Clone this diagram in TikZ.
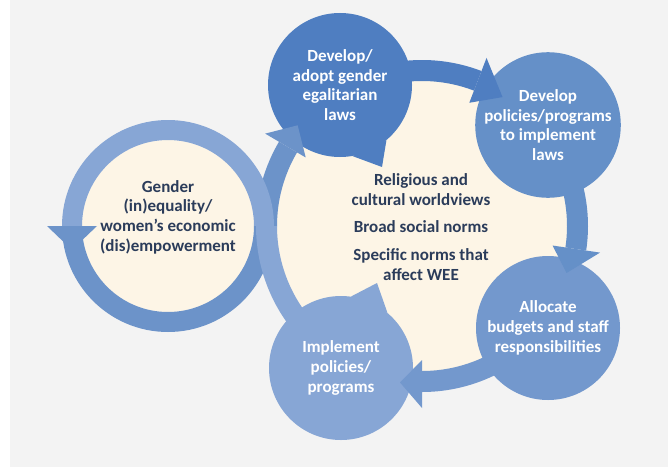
\documentclass[tikz,border=0pt]{standalone}
\usepackage{fontspec}
\setmainfont{Carlito}
\usetikzlibrary{calc}
\definecolor{lawBlue}{HTML}{4F7EC1}
\definecolor{policyBlue}{HTML}{6590C8}
\definecolor{budgetBlue}{HTML}{7398CD}
\definecolor{implBlue}{HTML}{87A6D5}
\definecolor{loopBlue}{HTML}{6C93C9}
\definecolor{normCream}{HTML}{FDF5E6}
\definecolor{pageGrey}{HTML}{F3F3F3}
\definecolor{normText}{HTML}{2B3C5A}
% ring segment: colour, centre, inner/outer radius, start/end angle
\newcommand{\ringband}[6]{%
  \fill[#1] ($(#2)+(#5:#4)$) arc[start angle=#5, end angle=#6, radius=#4]
    -- ($(#2)+(#6:#3)$) arc[start angle=#6, end angle=#5, radius=#3] -- cycle;}
% arrow tip on a ring: colour, centre, base angle, base radii, tip angle, tip radius
\newcommand{\ringhead}[7]{%
  \fill[#1] ($(#2)+(#3:#4)$) -- ($(#2)+(#3:#5)$) -- ($(#2)+(#6:#7)$) -- cycle;}
\tikzset{
  cycleStage/.style={circle, minimum size=144pt, inner sep=0pt, align=center, text=white, font=\bfseries\fontsize{17}{19.7}\selectfont},
  normLabel/.style={align=center, text=normText, font=\bfseries\fontsize{17}{19.7}\selectfont}
}

\begin{document}
\begin{tikzpicture}[x=1pt, y=1pt]
  \useasboundingbox (0,0) rectangle (668,467);
  \fill[white] (0,0) rectangle (668,467);
  \fill[pageGrey] (10,0) rectangle (668,467);
  \coordinate (hub) at (422,241);
  \coordinate (loop) at (168,241);
  \fill[normCream] (hub) circle[radius=150];
  % upper left arc of the cycle, runs under the small loop
  \ringband{loopBlue}{hub}{145}{166}{180}{149.5}
  % small loop round the outcome
  \fill[normCream] (loop) circle[radius=86];
  \ringband{implBlue}{loop}{86}{106}{0}{180}
  \ringband{loopBlue}{loop}{86}{106}{180}{360}
  \ringhead{loopBlue}{loop}{180}{71}{121}{194}{99}
  % the other arcs of the cycle
  \ringband{implBlue}{hub}{145}{166}{230}{180}
  \ringband{lawBlue}{hub}{145}{166}{110}{69}
  \ringband{policyBlue}{hub}{145}{166}{30}{-8.5}
  \ringband{budgetBlue}{hub}{145}{166}{-45}{-90}

  \node[cycleStage, fill=lawBlue] (laws) at (340,382) {Develop/\\adopt gender\\egalitarian\\laws};
  \node[cycleStage, fill=policyBlue] (policies) at (548,342) {Develop\\policies/programs\\to implement\\laws};
  \node[cycleStage, fill=budgetBlue] (budgets) at (548,139) {Allocate\\budgets and staff\\responsibilities};
  \node[cycleStage, fill=implBlue] (implement) at (341,99) {Implement\\policies/\\programs};

  % pointers into the norms
  \coordinate (lawsTip) at (382,300);
  \coordinate (implementTip) at (377,184);
  \fill[lawBlue] (laws.-80) -- (lawsTip) -- (laws.-50) -- cycle;
  \fill[implBlue] (implement.82) -- (implementTip) -- (implement.50) -- cycle;

  \ringhead{lawBlue}{hub}{69}{132}{180}{58}{152}
  \ringhead{policyBlue}{hub}{-8.5}{132}{180}{-18}{152}
  \ringhead{budgetBlue}{hub}{-90}{134}{182}{-98}{158}
  \ringhead{loopBlue}{hub}{149.5}{135}{182}{141}{160}

  \node[normLabel] (outcome) at (168,250) {Gender\\(in)equality/\\women’s economic\\(dis)empowerment};
  \node[normLabel] (norms) at (421,240) {Religious and\\cultural worldviews\\[8pt]Broad social norms\\[8pt]Specific norms that\\affect WEE};
\end{tikzpicture}
\end{document}
